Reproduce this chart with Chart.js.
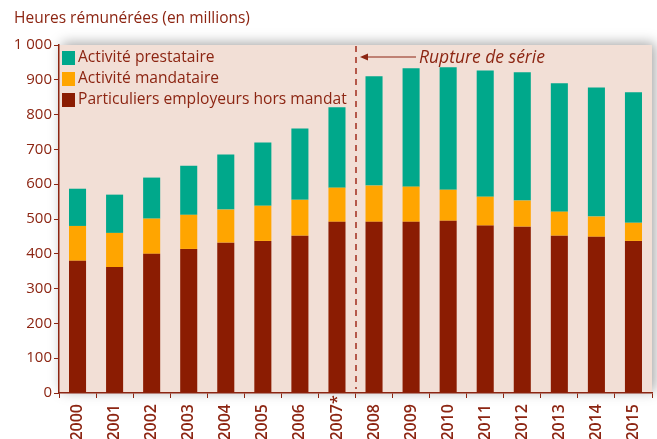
<!DOCTYPE html>
<html>
<head>
<meta charset="utf-8">
<script src="https://cdn.jsdelivr.net/npm/chart.js@4/dist/chart.umd.min.js"></script>
<style>
  html, body { margin: 0; padding: 0; background: #fff; }
  #wrap { width: 657px; height: 439px; }
</style>
</head>
<body>
<div id="wrap"><canvas id="chart" width="657" height="439"></canvas></div>
<script>
// data
const years = ['2000', '2001', '2002', '2003', '2004', '2005', '2006', '2007*',
  '2008', '2009', '2010', '2011', '2012', '2013', '2014', '2015'];
const particuliers = [380, 362, 400, 414, 432, 437, 452, 492, 492, 492, 495, 481, 478, 452, 449, 437];
const mandataire = [100, 98, 101, 98, 95, 101, 103, 98, 104, 101, 89, 83, 75, 69, 58, 52];
const prestataire = [107, 110, 118, 141, 158, 182, 205, 231, 314, 340, 352, 363, 369, 369, 371, 375];
const yTicks = [0, 100, 200, 300, 400, 500, 600, 700, 800, 900, 1000];

const textColor = '#8c2512';
const FONT = '"Open Sans", "Noto Sans", sans-serif';

// legend items, top to bottom
const legendItems = [
  { label: 'Activité prestataire', color: '#00a88b' },
  { label: 'Activité mandataire', color: '#ffa500' },
  { label: 'Particuliers employeurs hors mandat', color: '#8b1c02' }
];

// background panel with drop shadow
const panelPlugin = {
  id: 'panel',
  beforeDraw(chart) {
    const { ctx, chartArea: a } = chart;
    ctx.save();
    ctx.shadowColor = 'rgba(0,0,0,0.35)';
    ctx.shadowBlur = 12;
    ctx.shadowOffsetX = 3;
    ctx.shadowOffsetY = -2;
    ctx.fillStyle = '#f2dfd6';
    ctx.fillRect(a.left, a.top, a.right - a.left, a.bottom - a.top);
    ctx.restore();
  }
};

// title, legend, year labels, break line and annotation
const extrasPlugin = {
  id: 'extras',
  afterDatasetsDraw(chart) {
    const { ctx, chartArea: a, scales } = chart;
    ctx.save();
    ctx.fillStyle = textColor;
    ctx.font = '15.5px ' + FONT;
    ctx.textBaseline = 'middle';
    ctx.textAlign = 'left';
    ctx.fillText('Heures rémunérées (en millions)', 14, 19);

    ctx.font = '15.6px ' + FONT;
    legendItems.forEach((it, i) => {
      const y = a.top + 13 + i * 21;
      ctx.fillStyle = it.color;
      ctx.fillRect(a.left + 3, y - 7, 13, 14);
      ctx.fillStyle = textColor;
      ctx.fillText(it.label, a.left + 19, y);
    });

    // year labels, rotated, all starting from the same baseline (bottom)
    ctx.fillStyle = textColor;
    ctx.font = '600 16px ' + FONT;
    const yStart = a.bottom + 11 + ctx.measureText('2000').width;
    years.forEach((lab, i) => {
      ctx.save();
      ctx.translate(scales.x.getPixelForValue(i), yStart);
      ctx.rotate(-Math.PI / 2);
      ctx.textAlign = 'left';
      ctx.textBaseline = 'middle';
      ctx.fillText(lab, 0, 0);
      ctx.restore();
    });

    // "Rupture de série" dashed line
    const x = Math.round((scales.x.getPixelForValue(7) + scales.x.getPixelForValue(8)) / 2);
    ctx.strokeStyle = '#b5584a';
    ctx.lineWidth = 2;
    ctx.setLineDash([6, 5]);
    ctx.beginPath();
    ctx.moveTo(x, a.top + 1);
    ctx.lineTo(x, a.bottom - 4);
    ctx.stroke();
    ctx.setLineDash([]);

    // arrow
    const ay = a.top + 12;
    ctx.strokeStyle = textColor;
    ctx.lineWidth = 1.2;
    ctx.beginPath();
    ctx.moveTo(x + 6, ay);
    ctx.lineTo(x + 60, ay);
    ctx.stroke();
    ctx.fillStyle = textColor;
    ctx.beginPath();
    ctx.moveTo(x + 4, ay);
    ctx.lineTo(x + 12, ay - 3.5);
    ctx.lineTo(x + 12, ay + 3.5);
    ctx.closePath();
    ctx.fill();

    ctx.font = 'italic 17.5px ' + FONT;
    ctx.fillText('Rupture de série', x + 63, ay + 1);
    ctx.restore();
  }
};

new Chart(document.getElementById('chart'), {
  type: 'bar',
  data: {
    labels: years,
    datasets: [
      { label: legendItems[2].label, data: particuliers, backgroundColor: legendItems[2].color },
      { label: legendItems[1].label, data: mandataire, backgroundColor: legendItems[1].color },
      { label: legendItems[0].label, data: prestataire, backgroundColor: legendItems[0].color }
    ]
  },
  options: {
    responsive: false,
    animation: false,
    devicePixelRatio: 1,
    barPercentage: 0.46,
    categoryPercentage: 1,
    layout: { padding: { top: 45, right: 5, left: 0, bottom: 0 } },
    plugins: {
      legend: { display: false },
      tooltip: { enabled: false }
    },
    scales: {
      x: {
        stacked: true,
        grid: {
          display: true,
          drawOnChartArea: false,
          drawTicks: true,
          tickLength: 5,
          offset: true,
          color: textColor
        },
        border: { color: textColor, width: 1.5 },
        ticks: { display: false, autoSkip: false },
        afterFit(scale) { scale.height = 46; }
      },
      y: {
        stacked: true,
        min: 0,
        max: 1000,
        afterBuildTicks(scale) { scale.ticks = yTicks.map(v => ({ value: v })); },
        grid: {
          display: true,
          drawOnChartArea: false,
          drawTicks: true,
          tickLength: 5,
          color: textColor
        },
        border: { color: textColor, width: 1.5 },
        ticks: {
          color: textColor,
          font: { family: FONT, size: 15 },
          padding: 2,
          callback: v => v >= 1000 ? '1 000' : String(v)
        },
        afterFit(scale) { scale.width = 59; }
      }
    }
  },
  plugins: [panelPlugin, extrasPlugin]
});
</script>
</body>
</html>
